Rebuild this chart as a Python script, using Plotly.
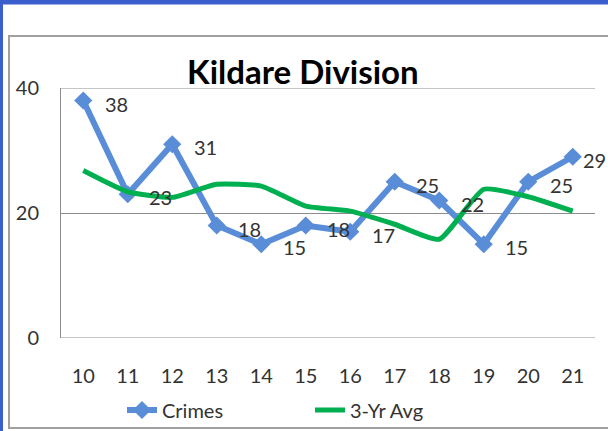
import plotly.graph_objects as go

years = ["10", "11", "12", "13", "14", "15", "16", "17", "18", "19", "20", "21"]
crimes = [38, 23, 31, 18, 15, 18, 17, 25, 22, 15, 25, 29]
avg3 = [26.8, 23.4, 22.5, 24.6, 24.3, 21.1, 20.3, 18.2, 15.8, 23.8, 22.6, 20.3]
title_text = "Kildare Division"
y_min, y_max, y_step = 0, 40, 20

FONT = "Lato, Roboto, sans-serif"
W, H = 608, 431
L, R, T, B = 61, 13, 88, 93
pw, ph = W - L - R, H - T - B

def px(x):
    return (x - L) / pw

def py(y):
    return (H - B - y) / ph

fig = go.Figure()
fig.add_trace(go.Scatter(
    x=years, y=crimes, name="Crimes", mode="lines+markers",
    line=dict(color="#5A8DD8", width=6),
    marker=dict(symbol="diamond", size=14, color="#5A8DD8"),
))
fig.add_trace(go.Scatter(
    x=years, y=avg3, name="3-Yr Avg", mode="lines",
    line=dict(color="#00B050", width=5, shape="spline", smoothing=0.5),
))

# data labels to the right of points, kept inside the chart area
n = len(years)
label_max_x = 594
for i, v in enumerate(crimes):
    pt_x = L + (i + 0.5) * pw / n
    shift = min(33, label_max_x - pt_x)
    fig.add_annotation(x=i, y=v, xref="x", yref="y", text=str(v), showarrow=False,
                       xshift=shift, yshift=-3,
                       font=dict(family=FONT, size=20, color="#333333"))

shapes = [
    dict(type="rect", xref="paper", yref="paper",
         x0=px(9), x1=px(640), y0=py(428), y1=py(36),
         line=dict(color="#A0A0A0", width=2), fillcolor="rgba(0,0,0,0)", layer="below"),
    dict(type="rect", xref="paper", yref="paper",
         x0=px(0), x1=px(608), y0=py(4.5), y1=py(0),
         line=dict(width=0), fillcolor="#3A5FCD", layer="above"),
    dict(type="rect", xref="paper", yref="paper",
         x0=px(0), x1=px(3), y0=py(431), y1=py(0),
         line=dict(width=0), fillcolor="#3A5FCD", layer="above"),
]
for gv in (y_min, y_max):
    shapes.append(dict(type="line", xref="paper", yref="y", x0=0, x1=1, y0=gv, y1=gv,
                       line=dict(color="#8C8C8C", width=1), layer="below"))

fig.update_layout(
    width=W, height=H,
    margin=dict(l=L, r=R, t=T, b=B, autoexpand=False),
    paper_bgcolor="white", plot_bgcolor="white",
    title=dict(text="<b>" + title_text + "</b>", x=px(327), xanchor="center",
               y=1 - 72 / H, yanchor="middle", automargin=False,
               font=dict(family=FONT, size=33, color="#000000")),
    showlegend=True,
    legend=dict(orientation="h", x=px(122), xanchor="left", y=py(410), yanchor="middle",
                font=dict(family=FONT, size=20, color="#333333"),
                entrywidth=143, entrywidthmode="pixels",
                bgcolor="rgba(0,0,0,0)", itemclick=False),
    shapes=shapes,
    xaxis=dict(type="category", range=[-0.5, 11.5], autorange=False, automargin=False,
               showgrid=False, zeroline=False, showline=False,
               ticks="", ticklabelstandoff=24,
               tickfont=dict(family=FONT, size=20, color="#333333")),
    yaxis=dict(range=[y_min, y_max], dtick=y_step, showgrid=True, gridcolor="#8C8C8C",
               gridwidth=1, automargin=False,
               zeroline=False, showline=True, linecolor="#8C8C8C", linewidth=1,
               ticks="", ticklabelstandoff=17,
               tickfont=dict(family=FONT, size=20, color="#333333")),
)

fig.write_html(
    "out.html",
    config={"displayModeBar": False},
    post_script="document.body.style.margin='0';document.body.style.padding='0';",
)
